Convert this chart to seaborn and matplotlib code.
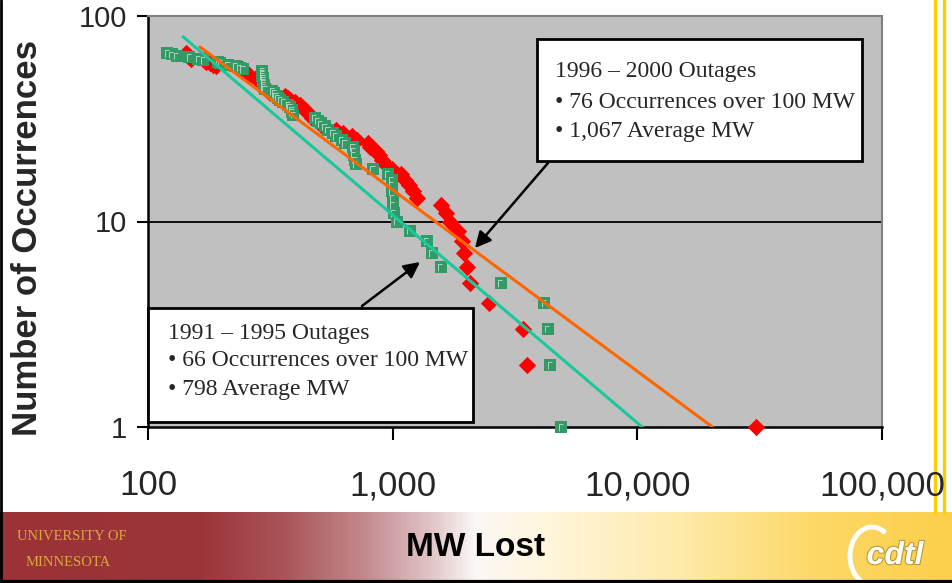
import numpy as np
import matplotlib
matplotlib.use("Agg")
import matplotlib.pyplot as plt
import seaborn as sns
from matplotlib.path import Path
from matplotlib.patches import Rectangle, Arc
from matplotlib.colors import LinearSegmentedColormap
import matplotlib.patheffects as pe

# ---------------------------------------------------------------------------
# Data: size of each outage (MW lost) against the number of outages of at
# least that size (cumulative count), for two five-year periods.
# ---------------------------------------------------------------------------
mw_1991_1995 = [120, 125, 131, 147, 160, 168, 193, 197, 212, 227, 237, 244,
                292, 292, 292, 292, 295, 295, 295, 295, 297, 297, 300,
                321, 327, 333, 339, 346, 356, 373, 380, 387, 387, 391,
                480, 494, 508, 528, 543, 569, 585, 619, 637,
                687, 693, 693, 700, 706, 829, 954,
                991, 991, 991, 1000, 1000, 1009, 1038, 1173, 1376, 1443, 1571,
                2760, 4171, 4295, 4416, 4895]
occ_1991_1995 = [66, 65, 64, 63, 62, 61, 60, 59, 58, 57, 56, 55,
                 54, 53, 52, 51, 50, 49, 48, 47, 46, 45, 44,
                 43, 42, 41, 40, 39, 38, 37, 36, 35, 34, 33,
                 32, 31, 30, 29, 28, 27, 26, 25, 24,
                 23, 22, 21, 20, 19, 18, 17,
                 16, 15, 14, 13, 12, 11, 10, 9, 8, 7, 6,
                 5, 4, 3, 2, 1]

mw_1996_2000 = [143, 144, 146, 147, 150, 169, 172, 179, 184, 190,
                237, 242, 247, 251, 256, 261, 276, 281, 287, 292,
                295, 300, 303, 309, 315, 363, 373, 380, 398, 417,
                425, 437, 446, 458, 467, 494, 504, 513, 585, 625,
                681, 713, 791, 806, 852, 877, 902, 928, 991, 1078,
                1119, 1163, 1206, 1253, 1571, 1646, 1709, 1842, 1912, 1949,
                2005, 2062, 2465, 3425, 3524, 30600]
occ_1996_2000 = [66, 65, 64, 63, 62, 61, 60, 59, 58, 57,
                 56, 55, 54, 53, 52, 51, 50, 49, 48, 47,
                 46, 45, 44, 43, 42, 41, 40, 39, 38, 37,
                 36, 35, 34, 33, 32, 31, 30, 29, 28, 27,
                 26, 25, 24, 23, 22, 21, 20, 19, 18, 17,
                 16, 15, 14, 13, 12, 11, 10, 9, 8, 7,
                 6, 5, 4, 3, 2, 1]

# Power-law trend lines: occurrences = coef * MW ** exponent
trend_1991_1995 = {"coef": 10 ** 4.068, "exponent": -1.012, "mw_range": [139, 10480]}
trend_1996_2000 = {"coef": 10 ** 3.803, "exponent": -0.883, "mw_range": [163, 20240]}

x_ticks = [100, 1000, 10000, 100000]
x_tick_labels = ["100", "1,000", "10,000", "100,000"]
y_ticks = [1, 10, 100]
y_tick_labels = ["1", "10", "100"]

box_1996_2000 = ["1996 \u2013 2000 Outages",
                 "\u2022 76 Occurrences over 100 MW",
                 "\u2022 1,067 Average MW"]
box_1991_1995 = ["1991 \u2013 1995 Outages",
                 "\u2022 66 Occurrences over 100 MW",
                 "\u2022 798 Average MW"]

# ---------------------------------------------------------------------------
sns.set_style("white")
plt.rcParams["font.family"] = ["Liberation Sans", "DejaVu Sans"]

W, H = 952, 583
fig = plt.figure(figsize=(W / 100, H / 100), dpi=100)
fig.patch.set_facecolor("white")


def fx(px):
    return px / W


def fy(py):
    return 1 - py / H


# Background layer in pixel units: footer banner, frame, side rules
bg = fig.add_axes([0, 0, 1, 1], zorder=0)
bg.set_xlim(0, W)
bg.set_ylim(H, 0)
bg.axis("off")

banner_cmap = LinearSegmentedColormap.from_list(
    "banner",
    [(0.00, "#9a3236"), (0.21, "#9c3539"), (0.30, "#aa5659"),
     (0.38, "#c2878b"), (0.45, "#dfc2c5"), (0.50, "#fbf8f6"),
     (0.58, "#fff5da"), (0.72, "#feeaa8"), (0.86, "#fdd866"),
     (1.00, "#fccf4c")])
grad = np.linspace(0, 1, 600).reshape(1, -1)
bg.imshow(grad, cmap=banner_cmap, aspect="auto", extent=[0, W, 580, 512],
          interpolation="bilinear")
bg.set_xlim(0, W)
bg.set_ylim(H, 0)

bg.plot([1, 1], [0, H], color="black", lw=2)
bg.plot([0, W], [581.5, 581.5], color="black", lw=3)
for xr in (935, 944):
    bg.plot([xr, xr], [0, 513], color="#ffcc00", lw=2.4)

bg.text(17, 536, "UNIVERSITY OF", family="Liberation Serif", fontsize=10.5,
        color="#d9a640", va="center", ha="left")
bg.text(26, 562, "MINNESOTA", family="Liberation Serif", fontsize=10.5,
        color="#d9a640", va="center", ha="left")
bg.text(476, 548, "MW Lost", fontsize=24, fontweight="bold", color="black",
        ha="center", va="center")
bg.add_patch(Arc((872, 556), 44, 58, theta1=110, theta2=300,
                 color="white", lw=3.5))
bg.text(895, 556, "cdtl", fontsize=23, fontweight="bold", style="italic",
        color="white", ha="center", va="center",
        path_effects=[pe.withStroke(linewidth=1.5, foreground="#b8962e")])

# Main log-log chart
ax = fig.add_axes([fx(148), fy(427), fx(882) - fx(148), fy(16) - fy(427)],
                  zorder=1)
ax.set_facecolor("#c0c0c0")
ax.set_xscale("log")
ax.set_yscale("log")

ax.axhline(10, color="black", lw=1.3, zorder=1.5)

sns.scatterplot(x=mw_1996_2000, y=occ_1996_2000, marker="D", s=78,
                color="#ff0000", linewidth=0, ax=ax, zorder=3, clip_on=False)
sns.scatterplot(x=mw_1991_1995, y=occ_1991_1995, marker="s", s=72,
                color="#339966", linewidth=0, ax=ax, zorder=4, clip_on=False)

# faint corner glint inside each square marker
glint = Path([(-0.5, -0.5), (0.5, 0.5), (-0.2, -0.3), (-0.2, 0.25), (0.15, 0.25)],
             [Path.MOVETO, Path.MOVETO, Path.MOVETO, Path.LINETO, Path.LINETO])
ax.scatter(mw_1991_1995, occ_1991_1995, marker=glint, s=72,
           facecolors="none", edgecolors="#a9d6bd", linewidths=0.7, zorder=4.5,
           clip_on=False)

for trend, col in ((trend_1996_2000, "#ff6600"), (trend_1991_1995, "#19c99b")):
    xs = np.array(trend["mw_range"], dtype=float)
    ys = trend["coef"] * xs ** trend["exponent"]
    sns.lineplot(x=xs, y=ys, color=col, lw=2.2, ax=ax, zorder=5)

ax.set_xlim(100, 100000)
ax.set_ylim(1, 100)
ax.set_xticks(x_ticks)
ax.set_xticklabels(x_tick_labels)
ax.set_yticks(y_ticks)
ax.set_yticklabels(y_tick_labels)
ax.minorticks_off()
ax.tick_params(axis="x", direction="out", length=9.5, width=1.5, color="black",
               labelsize=25, pad=21, bottom=True)
ax.tick_params(axis="y", direction="out", length=8, width=1.5, color="black",
               labelsize=21, pad=7, left=True)
ax.set_xlabel("")
ax.set_ylabel("")

for side in ("left", "bottom"):
    ax.spines[side].set_color("black")
    ax.spines[side].set_linewidth(1.8)
    ax.spines[side].set_zorder(2.5)
for side in ("top", "right"):
    ax.spines[side].set_color("#808080")
    ax.spines[side].set_linewidth(1.5)

fig.text(fx(28), fy(238), "Number of Occurrences", rotation=90, fontsize=25,
         fontweight="bold", ha="center", va="center")

# Annotation boxes with arrows pointing at the trend lines
for (x0, y0, x1, y1), lines, tx, tys in (
        ((537, 39, 862, 161), box_1996_2000, 555, (72, 103, 131)),
        ((148, 308, 473, 422), box_1991_1995, 168, (333, 360, 390))):
    ax.add_patch(Rectangle((fx(x0), fy(y1)), fx(x1) - fx(x0), fy(y0) - fy(y1),
                           transform=fig.transFigure, facecolor="white",
                           edgecolor="black", lw=2, zorder=6, clip_on=False))
    for line, ty in zip(lines, tys):
        ax.text(fx(tx), fy(ty), line, transform=fig.transFigure,
                family="Liberation Serif", fontsize=17, ha="left", va="center",
                zorder=7)

for (tail, tip) in (((548, 163), (475, 248)), ((362, 306), (420, 262))):
    ax.annotate("", xy=(fx(tip[0]), fy(tip[1])), xycoords="figure fraction",
                xytext=(fx(tail[0]), fy(tail[1])), textcoords="figure fraction",
                arrowprops=dict(arrowstyle="-|>", color="black", lw=1.8,
                                mutation_scale=24, shrinkA=0, shrinkB=0),
                zorder=6)

fig.savefig("out.png", dpi=100)
